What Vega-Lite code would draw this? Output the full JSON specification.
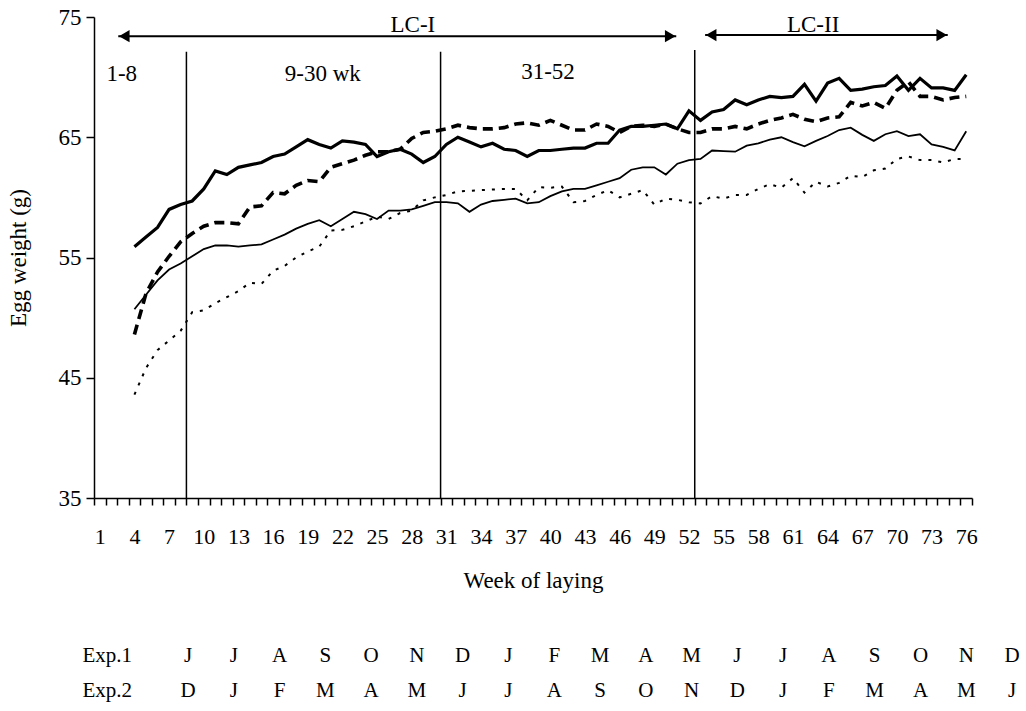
{
  "$schema": "https://vega.github.io/schema/vega-lite/v6.json",
  "background": "white",
  "padding": {"left": 7, "top": 6, "right": 0, "bottom": 0},
  "spacing": 46,
  "config": {
    "view": {"stroke": null},
    "font": "Liberation Serif",
    "axis": {"domainColor": "black", "tickColor": "black", "labelColor": "black", "titleColor": "black", "grid": false, "labelFont": "Liberation Serif", "titleFont": "Liberation Serif", "titleFontWeight": "normal", "domainWidth": 1.5, "tickWidth": 1.5},
    "text": {"font": "Liberation Serif", "color": "black"}
  },
  "datasets": {
    "weights": [
      {"week":4,"line1":55.9,"line2":48.6,"line3":50.7,"line4":43.6},
      {"week":5,"line1":56.7,"line2":52.0,"line3":51.9,"line4":45.8},
      {"week":6,"line1":57.5,"line2":53.8,"line3":53.1,"line4":47.3},
      {"week":7,"line1":59.0,"line2":55.1,"line3":54.0,"line4":48.1},
      {"week":8,"line1":59.4,"line2":56.3,"line3":54.5,"line4":48.9},
      {"week":9,"line1":59.7,"line2":57.0,"line3":55.1,"line4":50.45},
      {"week":10,"line1":60.7,"line2":57.6,"line3":55.7,"line4":50.6},
      {"week":11,"line1":62.2,"line2":57.9,"line3":56.0,"line4":51.2},
      {"week":12,"line1":61.9,"line2":57.9,"line3":56.0,"line4":51.7},
      {"week":13,"line1":62.5,"line2":57.8,"line3":55.9,"line4":52.2},
      {"week":14,"line1":62.7,"line2":59.2,"line3":56.0,"line4":52.9},
      {"week":15,"line1":62.9,"line2":59.3,"line3":56.1,"line4":52.8},
      {"week":16,"line1":63.4,"line2":60.4,"line3":56.5,"line4":53.9},
      {"week":17,"line1":63.6,"line2":60.3,"line3":56.9,"line4":54.3},
      {"week":18,"line1":64.2,"line2":61.0,"line3":57.4,"line4":55.0},
      {"week":19,"line1":64.8,"line2":61.4,"line3":57.8,"line4":55.5},
      {"week":20,"line1":64.4,"line2":61.3,"line3":58.1,"line4":55.9},
      {"week":21,"line1":64.1,"line2":62.5,"line3":57.6,"line4":57.25},
      {"week":22,"line1":64.7,"line2":62.8,"line3":58.2,"line4":57.3},
      {"week":23,"line1":64.6,"line2":63.1,"line3":58.8,"line4":57.6},
      {"week":24,"line1":64.4,"line2":63.5,"line3":58.6,"line4":58.0},
      {"week":25,"line1":63.4,"line2":63.8,"line3":58.2,"line4":58.4},
      {"week":26,"line1":63.8,"line2":63.8,"line3":58.9,"line4":58.2},
      {"week":27,"line1":64.0,"line2":64.0,"line3":58.9,"line4":58.7},
      {"week":28,"line1":63.6,"line2":64.9,"line3":59.0,"line4":58.9},
      {"week":29,"line1":62.9,"line2":65.4,"line3":59.3,"line4":59.75},
      {"week":30,"line1":63.4,"line2":65.5,"line3":59.6,"line4":60.0},
      {"week":31,"line1":64.4,"line2":65.7,"line3":59.6,"line4":60.2},
      {"week":32,"line1":65.0,"line2":66.0,"line3":59.5,"line4":60.5},
      {"week":33,"line1":64.6,"line2":65.8,"line3":58.8,"line4":60.55},
      {"week":34,"line1":64.2,"line2":65.7,"line3":59.4,"line4":60.6},
      {"week":35,"line1":64.5,"line2":65.7,"line3":59.7,"line4":60.65},
      {"week":36,"line1":64.0,"line2":65.8,"line3":59.8,"line4":60.7},
      {"week":37,"line1":63.9,"line2":66.1,"line3":59.9,"line4":60.7},
      {"week":38,"line1":63.4,"line2":66.2,"line3":59.5,"line4":59.75},
      {"week":39,"line1":63.9,"line2":66.0,"line3":59.6,"line4":60.85},
      {"week":40,"line1":63.9,"line2":66.4,"line3":60.1,"line4":60.8},
      {"week":41,"line1":64.0,"line2":66.0,"line3":60.5,"line4":60.9},
      {"week":42,"line1":64.1,"line2":65.6,"line3":60.7,"line4":59.6},
      {"week":43,"line1":64.1,"line2":65.6,"line3":60.7,"line4":59.7},
      {"week":44,"line1":64.5,"line2":66.1,"line3":61.0,"line4":60.2},
      {"week":45,"line1":64.5,"line2":65.9,"line3":61.3,"line4":60.6},
      {"week":46,"line1":65.6,"line2":65.4,"line3":61.6,"line4":60.0},
      {"week":47,"line1":65.9,"line2":65.9,"line3":62.3,"line4":60.3},
      {"week":48,"line1":65.9,"line2":66.0,"line3":62.5,"line4":60.6},
      {"week":49,"line1":66.0,"line2":65.9,"line3":62.5,"line4":59.4},
      {"week":50,"line1":66.1,"line2":66.1,"line3":61.9,"line4":59.9},
      {"week":51,"line1":65.7,"line2":65.7,"line3":62.8,"line4":59.8},
      {"week":52,"line1":67.2,"line2":65.4,"line3":63.1,"line4":59.6},
      {"week":53,"line1":66.4,"line2":65.4,"line3":63.2,"line4":59.5},
      {"week":54,"line1":67.1,"line2":65.7,"line3":63.9,"line4":60.1},
      {"week":55,"line1":67.3,"line2":65.7,"line3":63.85,"line4":59.9},
      {"week":56,"line1":68.1,"line2":65.9,"line3":63.8,"line4":60.2},
      {"week":57,"line1":67.7,"line2":65.7,"line3":64.3,"line4":60.2},
      {"week":58,"line1":68.1,"line2":66.1,"line3":64.5,"line4":60.7},
      {"week":59,"line1":68.4,"line2":66.4,"line3":64.8,"line4":61.1},
      {"week":60,"line1":68.3,"line2":66.6,"line3":65.0,"line4":60.8},
      {"week":61,"line1":68.4,"line2":66.9,"line3":64.6,"line4":61.6},
      {"week":62,"line1":69.4,"line2":66.5,"line3":64.25,"line4":60.4},
      {"week":63,"line1":68.0,"line2":66.3,"line3":64.7,"line4":61.3},
      {"week":64,"line1":69.5,"line2":66.6,"line3":65.1,"line4":60.9},
      {"week":65,"line1":69.9,"line2":66.7,"line3":65.6,"line4":61.2},
      {"week":66,"line1":68.9,"line2":67.9,"line3":65.8,"line4":61.8},
      {"week":67,"line1":69.0,"line2":67.6,"line3":65.2,"line4":61.7},
      {"week":68,"line1":69.2,"line2":67.9,"line3":64.7,"line4":62.25},
      {"week":69,"line1":69.3,"line2":67.4,"line3":65.25,"line4":62.4},
      {"week":70,"line1":70.1,"line2":68.9,"line3":65.5,"line4":63.2},
      {"week":71,"line1":68.9,"line2":69.6,"line3":65.1,"line4":63.4},
      {"week":72,"line1":69.9,"line2":68.4,"line3":65.25,"line4":63.1},
      {"week":73,"line1":69.1,"line2":68.4,"line3":64.4,"line4":63.1},
      {"week":74,"line1":69.1,"line2":68.1,"line3":64.2,"line4":62.9},
      {"week":75,"line1":68.9,"line2":68.3,"line3":63.9,"line4":63.2},
      {"week":76,"line1":70.2,"line2":68.4,"line3":65.5,"line4":63.2}
    ],
    "dividers": [
      {"at": 8.5, "top": 72.1},
      {"at": 30.5, "top": 72.1},
      {"at": 52.5, "top": 72.25}
    ],
    "cycles": [
      {"phase": "LC-I", "from": 2.6, "to": 50.9, "level": 73.4, "labelAt": 28.1, "labelLevel": 74.35},
      {"phase": "LC-II", "from": 53.4, "to": 74.4, "level": 73.5, "labelAt": 62.75, "labelLevel": 74.35}
    ],
    "periods": [
      {"text": "1-8", "at": 2.9, "level": 70.3},
      {"text": "9-30 wk", "at": 20.3, "level": 70.3},
      {"text": "31-52", "at": 39.8, "level": 70.4}
    ],
    "months": [
      {"experiment":"Exp.1","order":1,"month":"J"},{"experiment":"Exp.1","order":2,"month":"J"},{"experiment":"Exp.1","order":3,"month":"A"},{"experiment":"Exp.1","order":4,"month":"S"},{"experiment":"Exp.1","order":5,"month":"O"},{"experiment":"Exp.1","order":6,"month":"N"},{"experiment":"Exp.1","order":7,"month":"D"},{"experiment":"Exp.1","order":8,"month":"J"},{"experiment":"Exp.1","order":9,"month":"F"},{"experiment":"Exp.1","order":10,"month":"M"},{"experiment":"Exp.1","order":11,"month":"A"},{"experiment":"Exp.1","order":12,"month":"M"},{"experiment":"Exp.1","order":13,"month":"J"},{"experiment":"Exp.1","order":14,"month":"J"},{"experiment":"Exp.1","order":15,"month":"A"},{"experiment":"Exp.1","order":16,"month":"S"},{"experiment":"Exp.1","order":17,"month":"O"},{"experiment":"Exp.1","order":18,"month":"N"},{"experiment":"Exp.1","order":19,"month":"D"},
      {"experiment":"Exp.2","order":1,"month":"D"},{"experiment":"Exp.2","order":2,"month":"J"},{"experiment":"Exp.2","order":3,"month":"F"},{"experiment":"Exp.2","order":4,"month":"M"},{"experiment":"Exp.2","order":5,"month":"A"},{"experiment":"Exp.2","order":6,"month":"M"},{"experiment":"Exp.2","order":7,"month":"J"},{"experiment":"Exp.2","order":8,"month":"J"},{"experiment":"Exp.2","order":9,"month":"A"},{"experiment":"Exp.2","order":10,"month":"S"},{"experiment":"Exp.2","order":11,"month":"O"},{"experiment":"Exp.2","order":12,"month":"N"},{"experiment":"Exp.2","order":13,"month":"D"},{"experiment":"Exp.2","order":14,"month":"J"},{"experiment":"Exp.2","order":15,"month":"F"},{"experiment":"Exp.2","order":16,"month":"M"},{"experiment":"Exp.2","order":17,"month":"A"},{"experiment":"Exp.2","order":18,"month":"M"},{"experiment":"Exp.2","order":19,"month":"J"}
    ]
  },
  "vconcat": [
    {
      "width": 878,
      "height": 481,
      "layer": [
        {
          "data": {"name": "weights"},
          "mark": {"type": "line", "color": "black", "strokeWidth": 3.2},
          "encoding": {
            "x": {"field": "week", "type": "quantitative", "title": "Week of laying",
              "scale": {"domain": [0.5, 76.5], "nice": false, "zero": false},
              "axis": {
                "values": [0.5,1.5,2.5,3.5,4.5,5.5,6.5,7.5,8.5,9.5,10.5,11.5,12.5,13.5,14.5,15.5,16.5,17.5,18.5,19.5,20.5,21.5,22.5,23.5,24.5,25.5,26.5,27.5,28.5,29.5,30.5,31.5,32.5,33.5,34.5,35.5,36.5,37.5,38.5,39.5,40.5,41.5,42.5,43.5,44.5,45.5,46.5,47.5,48.5,49.5,50.5,51.5,52.5,53.5,54.5,55.5,56.5,57.5,58.5,59.5,60.5,61.5,62.5,63.5,64.5,65.5,66.5,67.5,68.5,69.5,70.5,71.5,72.5,73.5,74.5,75.5,76.5],
                "tickCount": 200,
                "labelExpr": "datum.value < 76 && (datum.value - 0.5) % 3 == 0 ? format(datum.value + 0.5, 'd') : ''",
                "labelOffset": 5.77,
                "labelFlush": false,
                "labelOverlap": false,
                "labelBound": false,
                "tickSize": 7,
                "labelPadding": 21,
                "labelFontSize": 22,
                "titleFontSize": 23,
                "titlePadding": 22
              }
            },
            "y": {"field": "line1", "type": "quantitative", "title": "Egg weight (g)",
              "scale": {"domain": [35, 75], "nice": false, "zero": false},
              "axis": {
                "values": [35, 45, 55, 65, 75],
                "tickSize": 8,
                "labelPadding": 5,
                "labelFontSize": 23,
                "titleFontSize": 23,
                "titlePadding": 28
              }
            }
          }
        },
        {
          "data": {"name": "weights"},
          "mark": {"type": "line", "color": "black", "strokeWidth": 3.6, "strokeDash": [10, 6]},
          "encoding": {
            "x": {"field": "week", "type": "quantitative", "title": "Week of laying", "scale": {"domain": [0.5, 76.5], "nice": false, "zero": false}},
            "y": {"field": "line2", "type": "quantitative", "title": "Egg weight (g)", "scale": {"domain": [35, 75], "nice": false, "zero": false}}
          }
        },
        {
          "data": {"name": "weights"},
          "mark": {"type": "line", "color": "black", "strokeWidth": 1.8},
          "encoding": {
            "x": {"field": "week", "type": "quantitative", "title": "Week of laying", "scale": {"domain": [0.5, 76.5], "nice": false, "zero": false}},
            "y": {"field": "line3", "type": "quantitative", "title": "Egg weight (g)", "scale": {"domain": [35, 75], "nice": false, "zero": false}}
          }
        },
        {
          "data": {"name": "weights"},
          "mark": {"type": "line", "color": "black", "strokeWidth": 2, "strokeDash": [3, 7]},
          "encoding": {
            "x": {"field": "week", "type": "quantitative", "title": "Week of laying", "scale": {"domain": [0.5, 76.5], "nice": false, "zero": false}},
            "y": {"field": "line4", "type": "quantitative", "title": "Egg weight (g)", "scale": {"domain": [35, 75], "nice": false, "zero": false}}
          }
        },
        {
          "data": {"name": "dividers"},
          "mark": {"type": "rule", "color": "black", "strokeWidth": 1.5},
          "encoding": {
            "x": {"field": "at", "type": "quantitative", "title": "Week of laying", "scale": {"domain": [0.5, 76.5], "nice": false, "zero": false}},
            "y": {"field": "top", "type": "quantitative", "title": "Egg weight (g)", "scale": {"domain": [35, 75], "nice": false, "zero": false}},
            "y2": {"datum": 35}
          }
        },
        {
          "data": {"name": "cycles"},
          "mark": {"type": "rule", "color": "black", "strokeWidth": 2},
          "encoding": {
            "x": {"field": "from", "type": "quantitative", "title": "Week of laying", "scale": {"domain": [0.5, 76.5], "nice": false, "zero": false}},
            "x2": {"field": "to"},
            "y": {"field": "level", "type": "quantitative", "title": "Egg weight (g)", "scale": {"domain": [35, 75], "nice": false, "zero": false}}
          }
        },
        {
          "data": {"name": "cycles"},
          "mark": {"type": "point", "shape": "triangle-left", "filled": true, "color": "black", "opacity": 1, "size": 150, "xOffset": 6},
          "encoding": {
            "x": {"field": "from", "type": "quantitative", "title": "Week of laying", "scale": {"domain": [0.5, 76.5], "nice": false, "zero": false}},
            "y": {"field": "level", "type": "quantitative", "title": "Egg weight (g)", "scale": {"domain": [35, 75], "nice": false, "zero": false}}
          }
        },
        {
          "data": {"name": "cycles"},
          "mark": {"type": "point", "shape": "triangle-right", "filled": true, "color": "black", "opacity": 1, "size": 150, "xOffset": -6},
          "encoding": {
            "x": {"field": "to", "type": "quantitative", "title": "Week of laying", "scale": {"domain": [0.5, 76.5], "nice": false, "zero": false}},
            "y": {"field": "level", "type": "quantitative", "title": "Egg weight (g)", "scale": {"domain": [35, 75], "nice": false, "zero": false}}
          }
        },
        {
          "data": {"name": "cycles"},
          "mark": {"type": "text", "fontSize": 23, "color": "black"},
          "encoding": {
            "x": {"field": "labelAt", "type": "quantitative", "title": "Week of laying", "scale": {"domain": [0.5, 76.5], "nice": false, "zero": false}},
            "y": {"field": "labelLevel", "type": "quantitative", "title": "Egg weight (g)", "scale": {"domain": [35, 75], "nice": false, "zero": false}},
            "text": {"field": "phase"}
          }
        },
        {
          "data": {"name": "periods"},
          "mark": {"type": "text", "fontSize": 23, "color": "black"},
          "encoding": {
            "x": {"field": "at", "type": "quantitative", "title": "Week of laying", "scale": {"domain": [0.5, 76.5], "nice": false, "zero": false}},
            "y": {"field": "level", "type": "quantitative", "title": "Egg weight (g)", "scale": {"domain": [35, 75], "nice": false, "zero": false}},
            "text": {"field": "text"}
          }
        }
      ]
    },
    {
      "width": 925,
      "height": 70,
      "data": {"name": "months"},
      "mark": {"type": "text", "fontSize": 21, "color": "black"},
      "encoding": {
        "x": {"field": "order", "type": "quantitative", "scale": {"domain": [-1.053, 19.152], "nice": false, "zero": false}, "axis": null},
        "y": {"field": "experiment", "type": "nominal", "scale": {"domain": ["Exp.1", "Exp.2"]},
          "axis": {"title": null, "ticks": false, "tickSize": 0, "domain": false, "labelAlign": "left", "labelPadding": 12, "labelFontSize": 21}},
        "text": {"field": "month"}
      }
    }
  ]
}
